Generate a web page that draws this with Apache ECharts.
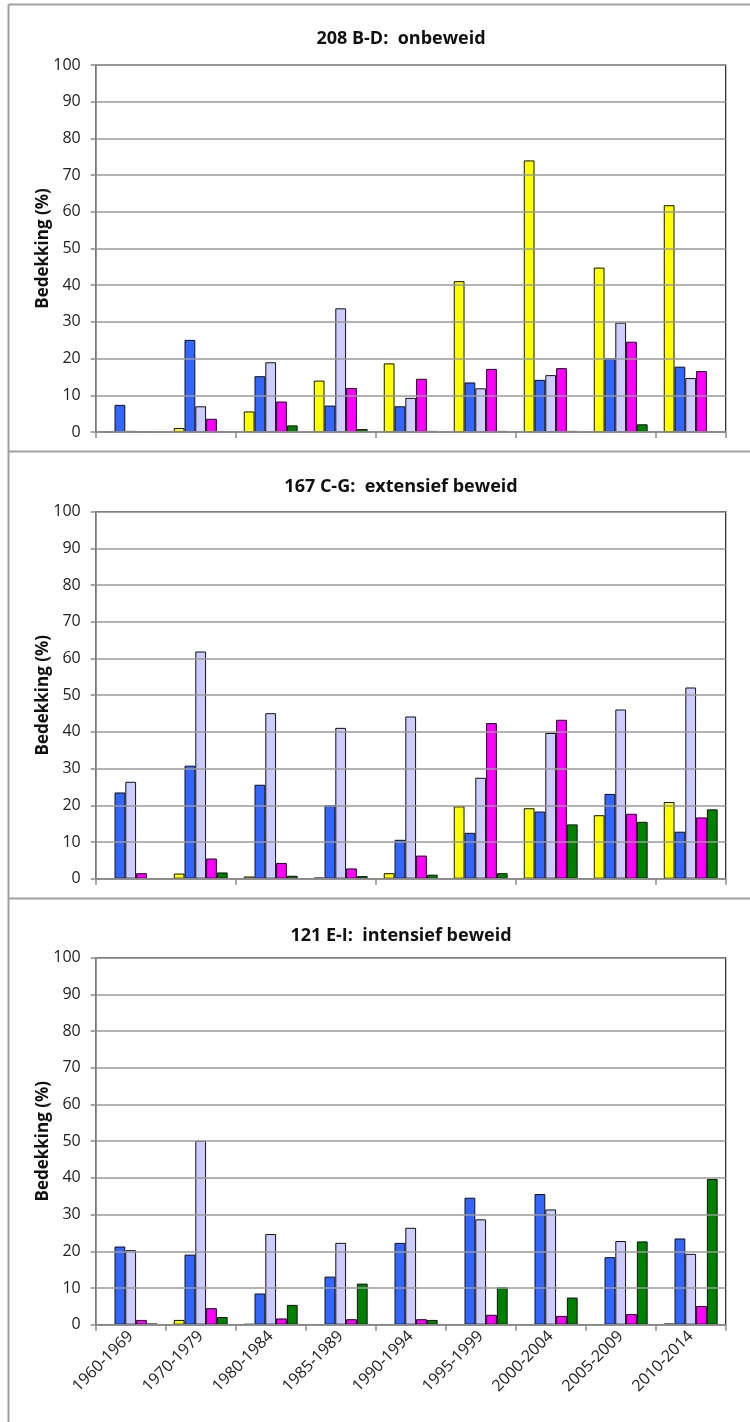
<!DOCTYPE html>
<html>
<head>
<meta charset="utf-8">
<script src="https://cdn.jsdelivr.net/npm/echarts@6/dist/echarts.min.js"></script>
<style>
html,body{margin:0;padding:0;background:#fff;}
#chart{width:750px;height:1422px;}
</style>
</head>
<body>
<div id="chart"></div>
<script>
const categories = ['1960-1969','1970-1979','1980-1984','1985-1989','1990-1994','1995-1999','2000-2004','2005-2009','2010-2014'];
const panelTitles = ['208 B-D:  onbeweid','167 C-G:  extensief beweid','121 E-I:  intensief beweid'];
const yAxisName = 'Bedekking (%)';

// Panel 1: 208 B-D onbeweid
const p1Yellow  = [0, 1.1, 5.6, 14.0, 18.7, 41.1, 74.0, 44.8, 61.8];
const p1Blue    = [7.4, 25.1, 15.2, 7.2, 7.0, 13.5, 14.2, 20.1, 17.8];
const p1Lilac   = [0.3, 7.0, 19.0, 33.7, 9.3, 11.9, 15.5, 29.8, 14.7];
const p1Magenta = [0.15, 3.6, 8.3, 12.0, 14.5, 17.2, 17.4, 24.6, 16.6];
const p1Green   = [0, 0.2, 1.8, 0.8, 0.3, 0.3, 0.3, 2.1, 0.2];

// Panel 2: 167 C-G extensief beweid
const p2Yellow  = [0.1, 1.4, 0.6, 0.3, 1.5, 19.7, 19.2, 17.3, 20.9];
const p2Blue    = [23.5, 30.8, 25.6, 20.0, 10.6, 12.5, 18.3, 23.1, 12.8];
const p2Lilac   = [26.4, 61.9, 45.1, 41.1, 44.2, 27.5, 39.7, 46.1, 52.1];
const p2Magenta = [1.5, 5.5, 4.3, 2.8, 6.3, 42.4, 43.3, 17.7, 16.7];
const p2Green   = [0.1, 1.7, 0.8, 0.7, 1.1, 1.5, 14.8, 15.5, 18.9];

// Panel 3: 121 E-I intensief beweid
const p3Yellow  = [0.1, 1.3, 0.2, 0.1, 0.1, 0.1, 0.1, 0, 0.3];
const p3Blue    = [21.3, 19.1, 8.5, 13.1, 22.3, 34.6, 35.6, 18.4, 23.5];
const p3Lilac   = [20.3, 50.1, 24.7, 22.3, 26.4, 28.7, 31.4, 22.8, 19.3];
const p3Magenta = [1.3, 4.5, 1.7, 1.5, 1.5, 2.7, 2.4, 2.9, 5.1];
const p3Green   = [0.3, 2.1, 5.4, 11.2, 1.3, 10.2, 7.4, 22.7, 39.7];

const panels = [
  [p1Yellow, p1Blue, p1Lilac, p1Magenta, p1Green],
  [p2Yellow, p2Blue, p2Lilac, p2Magenta, p2Green],
  [p3Yellow, p3Blue, p3Lilac, p3Magenta, p3Green]
];
const colors = ['#FFFF00', '#3366FF', '#CCCCFF', '#FF00FF', '#008000'];

const FONT = '"Open Sans", Lato, sans-serif';
const gridTops = [65, 511.7, 957.7];
const titleCenters = [39, 487, 936];
const gridH = 367;
const gridLeft = 95.7, gridRight = 24.3;

const grids = [], xAxes = [], yAxes = [], series = [], graphics = [];
panels.forEach((panel, i) => {
  grids.push({
    left: gridLeft, right: gridRight, top: gridTops[i], height: gridH,
    show: true, borderColor: '#222', borderWidth: 1.2, backgroundColor: 'transparent'
  });
  xAxes.push({
    type: 'category', gridIndex: i, data: categories,
    axisLine: { show: true, lineStyle: { color: '#8c8c8c', width: 1.5 } },
    axisTick: { show: true, length: 6, lineStyle: { color: '#8c8c8c', width: 1.5 } },
    axisLabel: i === 2 ? { show: true, rotate: 45, fontSize: 16, color: '#222', fontFamily: FONT, margin: 9 } : { show: false },
    z: 5
  });
  yAxes.push({
    type: 'value', gridIndex: i, min: 0, max: 100, interval: 10,
    name: yAxisName, nameLocation: 'middle', nameGap: 44, nameRotate: 90,
    nameMoveOverlap: false,
    nameTextStyle: { fontSize: 17, fontWeight: 'bold', color: '#111', fontFamily: FONT },
    axisLine: { show: true, lineStyle: { color: '#8c8c8c', width: 1.5 } },
    axisTick: { show: true, length: 5, lineStyle: { color: '#8c8c8c', width: 1.5 } },
    axisLabel: { fontSize: 16, color: '#222', fontFamily: FONT, margin: 15 },
    splitLine: { show: true, lineStyle: { color: '#9a9a9a', width: 1.5 } },
    z: 5
  });
  panel.forEach((arr, s) => {
    series.push({
      type: 'bar', xAxisIndex: i, yAxisIndex: i, data: arr,
      barGap: '0%', barCategoryGap: '23%',
      itemStyle: { color: colors[s], borderColor: '#111', borderWidth: 1 },
      animation: false, z: 3
    });
  });
  graphics.push({
    type: 'text', x: 401, y: titleCenters[i],
    style: { text: panelTitles[i], font: 'bold 18px ' + FONT, fill: '#111', textAlign: 'center', textVerticalAlign: 'middle' }
  });
});

// frame lines
const frameColor = '#a0a0a0';
graphics.push({ type: 'line', shape: { x1: 8.5, y1: 4.5, x2: 750, y2: 4.5 }, style: { stroke: frameColor, lineWidth: 2 } });
graphics.push({ type: 'line', shape: { x1: 8.5, y1: 4.5, x2: 8.5, y2: 1422 }, style: { stroke: frameColor, lineWidth: 2 } });
graphics.push({ type: 'line', shape: { x1: 8.5, y1: 451.5, x2: 750, y2: 451.5 }, style: { stroke: frameColor, lineWidth: 2 } });
graphics.push({ type: 'line', shape: { x1: 8.5, y1: 898.5, x2: 750, y2: 898.5 }, style: { stroke: frameColor, lineWidth: 2 } });

const chart = echarts.init(document.getElementById('chart'), null, { renderer: 'canvas' });
chart.setOption({
  animation: false,
  backgroundColor: '#fff',
  textStyle: { fontFamily: FONT },
  grid: grids, xAxis: xAxes, yAxis: yAxes, series: series,
  graphic: graphics
});
</script>
</body>
</html>
